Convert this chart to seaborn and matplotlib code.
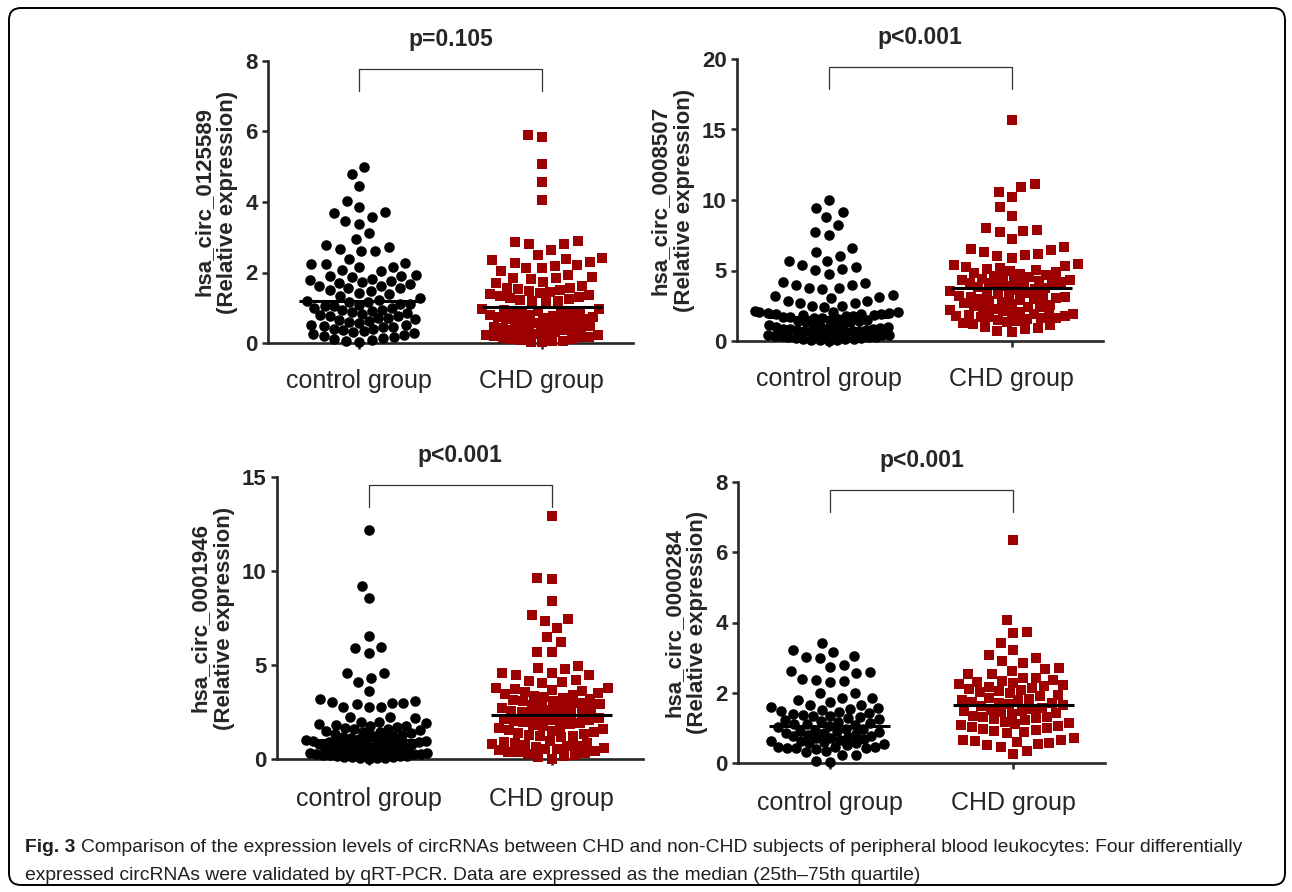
import matplotlib
matplotlib.use("Agg")
import matplotlib.pyplot as plt
import seaborn as sns
import numpy as np
from matplotlib.patches import FancyBboxPatch
from matplotlib.transforms import IdentityTransform

groups = ["control group", "CHD group"]
genes = ["hsa_circ_0125589", "hsa_circ_0008507", "hsa_circ_0001946", "hsa_circ_0000284"]
p_labels = ["p=0.105", "p<0.001", "p<0.001", "p<0.001"]
y_max = [8, 20, 15, 8]
y_step = [2, 5, 5, 2]

# medians (the black bars)
ctrl_median = [1.19, 1.73, 1.01, 1.05]
chd_median = [1.02, 3.76, 2.32, 1.65]

ctrl_0125589 = [
    5.00, 4.79, 4.46, 4.04, 3.85, 3.71, 3.68, 3.57, 3.47, 3.39, 3.11, 2.96,
    2.78, 2.72, 2.67, 2.62, 2.60, 2.39, 2.28, 2.23, 2.23, 2.17, 2.15, 2.07, 2.05,
    1.94, 1.91, 1.89, 1.86, 1.81, 1.79, 1.75, 1.74, 1.69, 1.66, 1.63, 1.62, 1.57, 1.55,
    1.51, 1.47, 1.43, 1.38, 1.33, 1.27, 1.22, 1.19, 1.17, 1.15, 1.12, 1.10, 1.08, 1.06, 1.05,
    1.00, 0.98, 0.95, 0.93, 0.91, 0.87, 0.85, 0.83, 0.80, 0.77, 0.76, 0.72, 0.70, 0.67,
    0.66, 0.62, 0.60, 0.58,
    0.52, 0.50, 0.49, 0.46, 0.44, 0.41, 0.39, 0.36, 0.34, 0.31, 0.28, 0.25, 0.23, 0.19,
    0.16, 0.14, 0.10, 0.08, 0.05, 0.03,
]
chd_0125589 = [
    5.90, 5.85, 5.08, 4.56, 4.06,
    2.90, 2.87, 2.81, 2.80, 2.64,
    2.50, 2.40, 2.38, 2.35, 2.30, 2.28, 2.20, 2.18, 2.14, 2.13, 2.05,
    1.93, 1.87, 1.85, 1.83, 1.81, 1.72, 1.69, 1.63, 1.56, 1.55, 1.54,
    1.50, 1.48, 1.45, 1.42, 1.39, 1.37, 1.34, 1.31, 1.29, 1.26, 1.23, 1.20, 1.18, 1.15,
    0.97, 0.96, 0.94, 0.92, 0.89, 0.88, 0.86, 0.84, 0.83, 0.80, 0.79, 0.77, 0.75, 0.73,
    0.71, 0.69, 0.67, 0.65, 0.64, 0.62, 0.60, 0.58, 0.57, 0.55,
    0.48, 0.47, 0.45, 0.43, 0.42, 0.40, 0.38, 0.36, 0.34, 0.32, 0.30, 0.28, 0.26, 0.24,
    0.22, 0.20, 0.18, 0.16, 0.14, 0.12, 0.10, 0.08, 0.06, 0.05, 0.03, 0.02,
]
ctrl_0008507 = [
    10.0, 9.46, 9.13, 8.77, 8.23, 7.75, 7.52, 6.57, 6.34, 6.05, 5.70, 5.68,
    5.39, 5.27, 5.08, 5.04, 4.73, 4.15, 4.13, 3.98, 3.96, 3.78, 3.74, 3.66,
    3.24, 3.19, 3.10, 3.03, 2.85, 2.83, 2.73, 2.71, 2.49, 2.47, 2.39,
    2.10, 2.08, 2.06, 2.03, 2.01, 1.98, 1.95, 1.93, 1.89, 1.86, 1.83, 1.80,
    1.76, 1.72, 1.69, 1.64, 1.61, 1.56, 1.52, 1.48, 1.45, 1.40, 1.36, 1.32,
    1.12, 1.10, 1.08, 1.05, 1.02, 1.00, 0.97, 0.94, 0.91, 0.88, 0.86, 0.82,
    0.79, 0.76, 0.73, 0.70, 0.68, 0.64, 0.61, 0.58, 0.55, 0.52, 0.49, 0.46,
    0.43, 0.40, 0.37, 0.34, 0.31, 0.28, 0.25, 0.22, 0.19, 0.16, 0.13, 0.11,
    0.09, 0.07, 0.05, 0.03,
]
chd_0008507 = [
    15.7, 11.1, 10.9, 10.6, 10.2, 9.5, 8.9, 8.0, 7.9, 7.8, 7.75, 7.2, 6.7,
    6.5, 6.45, 6.3, 6.2, 6.1, 6.0, 5.9, 5.45, 5.4,
    5.30, 5.22, 5.15, 5.08, 5.01, 4.94, 4.87, 4.81, 4.74, 4.68, 4.60, 4.53,
    4.47, 4.40, 4.33, 4.26, 4.18, 4.10,
    4.30, 4.22, 4.15, 4.08, 4.02, 3.95, 3.88, 3.80, 3.74, 3.68, 3.60, 3.52,
    3.46, 3.40, 3.33, 3.26, 3.20, 3.13, 3.06, 3.00,
    3.10, 3.03, 2.96, 2.90, 2.83, 2.76, 2.70, 2.64, 2.57, 2.50, 2.44, 2.38,
    2.31, 2.25, 2.18, 2.12, 2.06, 2.00,
    1.92, 1.88, 1.85, 1.82, 1.78, 1.75, 1.71, 1.68, 1.64, 1.60, 1.55, 1.50,
    1.44, 1.38, 1.30, 1.22, 1.12, 1.02, 0.92, 0.82, 0.72, 0.62,
]
ctrl_0001946 = [
    12.2, 9.2, 8.55, 6.54, 5.94, 5.89, 5.62, 4.56, 4.55, 4.33, 4.08, 3.62,
    3.19, 3.10, 3.01, 2.97, 2.96, 2.95, 2.79, 2.78, 2.77, 2.22, 2.21, 2.16, 1.96, 1.95,
    1.90, 1.86, 1.82, 1.78, 1.74, 1.70, 1.66, 1.62, 1.58, 1.54, 1.50, 1.46,
    1.42, 1.38, 1.34, 1.30, 1.26, 1.22, 1.18, 1.14, 1.10, 1.06, 1.03, 1.00,
    0.98, 0.96, 0.94, 0.92, 0.90, 0.88, 0.86, 0.84, 0.82, 0.80, 0.78, 0.76,
    0.74, 0.72, 0.70, 0.68, 0.66, 0.64, 0.62, 0.60, 0.58, 0.56, 0.53, 0.51, 0.48, 0.45,
    0.42, 0.40, 0.38, 0.36, 0.34, 0.32, 0.30, 0.28, 0.26, 0.24, 0.22, 0.20,
    0.18, 0.16, 0.14, 0.12, 0.10, 0.08, 0.06, 0.04, 0.03, 0.01,
]
chd_0001946 = [
    12.9, 9.65, 9.56, 8.42, 7.66, 7.43, 7.36, 6.99, 6.47, 6.24, 5.71, 5.70, 4.95,
    4.82, 4.79, 4.60, 4.58, 4.48, 4.46, 4.18, 4.16, 4.08, 4.02,
    3.80, 3.76, 3.71, 3.66, 3.61, 3.56, 3.51, 3.46, 3.41, 3.36, 3.31, 3.26,
    3.21, 3.16, 3.11, 3.06, 3.00, 2.95,
    2.90, 2.85, 2.80, 2.75, 2.70, 2.65, 2.60, 2.55, 2.50, 2.44, 2.38, 2.32,
    2.27, 2.22, 2.17, 2.12, 2.08, 2.05,
    2.00, 1.95, 1.90, 1.85, 1.80, 1.75, 1.70, 1.65, 1.60, 1.55, 1.50, 1.45,
    1.40, 1.35, 1.30, 1.25, 1.20, 1.15,
    0.95, 0.91, 0.87, 0.83, 0.79, 0.75, 0.71, 0.67, 0.63, 0.59, 0.55, 0.51,
    0.47, 0.43, 0.39, 0.35, 0.31, 0.27, 0.22, 0.16, 0.09, 0.02,
]
ctrl_0000284 = [
    3.41, 3.22, 3.16, 3.06, 3.02, 3.00, 2.78, 2.73, 2.62, 2.59, 2.56, 2.38,
    2.37, 2.34, 2.31, 1.99, 1.98, 1.86, 1.85, 1.79, 1.74, 1.66, 1.65, 1.60, 1.56, 1.55,
    1.50, 1.48, 1.45, 1.43, 1.40, 1.38, 1.35, 1.33, 1.30, 1.27, 1.25, 1.22,
    1.20, 1.17, 1.15, 1.12, 1.10, 1.07, 1.05, 1.02,
    0.98, 0.96, 0.94, 0.92, 0.90, 0.88, 0.86, 0.84, 0.82, 0.80, 0.78, 0.76,
    0.74, 0.72, 0.70, 0.68, 0.66, 0.64, 0.62, 0.60, 0.58, 0.56, 0.53, 0.50,
    0.46, 0.46, 0.45, 0.44, 0.43, 0.42, 0.41, 0.35, 0.30, 0.23, 0.22, 0.06, 0.04,
]
chd_0000284 = [
    6.35, 4.06, 3.74, 3.71, 3.41, 3.22, 3.08, 2.99, 2.89, 2.85, 2.70, 2.69,
    2.62, 2.54, 2.52, 2.43, 2.42,
    2.35, 2.33, 2.30, 2.28, 2.25, 2.22, 2.19, 2.16, 2.13, 2.10, 2.07, 2.04,
    2.01, 1.98, 1.95, 1.92,
    1.85, 1.83, 1.80, 1.78, 1.75, 1.72, 1.70, 1.67, 1.64, 1.61, 1.58, 1.55,
    1.52, 1.49, 1.47, 1.45, 1.42, 1.40,
    1.35, 1.32, 1.30, 1.27, 1.24, 1.21, 1.18, 1.15, 1.12, 1.09, 1.06, 1.03,
    1.00, 0.97, 0.94, 0.91, 0.88, 0.85,
    0.70, 0.66, 0.65, 0.62, 0.60, 0.57, 0.54, 0.50, 0.45, 0.35, 0.26,
]

ctrl_data = [ctrl_0125589, ctrl_0008507, ctrl_0001946, ctrl_0000284]
chd_data = [chd_0125589, chd_0008507, chd_0001946, chd_0000284]

RED = "#9c0000"
SHOW_SIZE = 7.6     # marker size (pt) that is finally drawn
AX_H = 282          # axes height in pixels


def layout_sizes(vals, ymax):
    # sparse dots get extra room, dense stretches get a smaller spacing so
    # the swarm stays as narrow as the published one (GraphPad lets the
    # dots overlap there)
    ypx = np.asarray(vals) * AX_H / ymax
    n = (np.abs(ypx[:, None] - ypx[None, :]) < 5).sum(axis=1)
    d_px = np.clip(np.sqrt(1000 / n), 4.5, 13.5)
    return (d_px * 0.72) ** 2


def swarm(ax, label, vals, ymax, **kws):
    before = len(ax.collections)
    sns.swarmplot(x=[label] * len(vals), y=vals, order=groups, size=SHOW_SIZE,
                  linewidth=0, warn_thresh=1.0, ax=ax, **kws)
    # seaborn also adds an empty collection for the other category
    for coll in ax.collections[before:]:
        if len(coll.get_offsets()) == len(vals):
            coll.set_sizes(layout_sizes(vals, ymax))


sns.set_style("ticks")
plt.rcParams["font.family"] = ["Liberation Sans", "DejaVu Sans"]

W, H = 1292, 892
fig = plt.figure(figsize=(W / 100, H / 100), dpi=100)

# axes boxes in pixels: left, top, right, bottom
boxes = [(268, 61, 633, 343), (737, 59, 1103, 341),
         (277, 477, 643, 759), (738, 482, 1105, 763)]

axes = []
for i, (x0, y0, x1, y1) in enumerate(boxes):
    ax = fig.add_axes([x0 / W, 1 - y1 / H, (x1 - x0) / W, (y1 - y0) / H])
    axes.append(ax)
    ym = y_max[i]

    swarm(ax, groups[0], ctrl_data[i], ym, color="black", marker="o")
    swarm(ax, groups[1], chd_data[i], ym, color=RED, marker="s")

    ax.hlines([ctrl_median[i], chd_median[i]], [-0.33, 0.67], [0.33, 1.33],
              color="black", lw=2.2, zorder=5)

    ax.set_ylim(0, ym)
    ax.set_xlim(-0.5, 1.5)
    ax.set_yticks(np.arange(0, ym + 1, y_step[i]))
    ax.set_xticks([0, 1])
    ax.set_xticklabels(groups, fontsize=18)
    for t in ax.get_yticklabels():
        t.set_fontweight("bold")
        t.set_fontsize(16)
    ax.tick_params(axis="y", length=4.5, width=1.8, pad=3)
    ax.tick_params(axis="x", length=4.5, width=1.8, pad=14 if i < 2 else 15.5)
    sns.despine(ax=ax)
    for s in ["left", "bottom"]:
        ax.spines[s].set_linewidth(1.9)
    ax.set_xlabel("")
    ax.set_ylabel(f"{genes[i]}\n(Relative expression)", fontsize=16,
                  fontweight="bold", linespacing=1.2, labelpad=5)
    ax.set_title(p_labels[i], fontsize=16.5, fontweight="bold", pad=11)

    # significance bracket
    ax.plot([0, 0, 1, 1], [0.893 * ym, 0.973 * ym, 0.973 * ym, 0.893 * ym],
            color="#333333", lw=0.9, clip_on=False)

# let seaborn lay out the swarms, then freeze them at the drawn marker size
fig.canvas.draw()
for ax in axes:
    for coll in ax.collections:
        if "draw" in coll.__dict__:
            del coll.draw
            coll.set_sizes([SHOW_SIZE ** 2])
            coll.set_clip_on(False)

# caption
renderer = fig.canvas.get_renderer()
cap_color = "#231f20"
cap_family = ["Liberation Sans Narrow", "Liberation Sans"]
fig_lbl = fig.text(25 / W, 1 - 852 / H, "Fig. 3", fontsize=12, fontweight="bold",
                   color=cap_color, va="baseline", family=cap_family)
line1 = fig.text(84 / W, 1 - 852 / H,
                 "Comparison of the expression levels of circRNAs between CHD and non-CHD "
                 "subjects of peripheral blood leukocytes: Four differentially",
                 fontsize=12, color=cap_color, va="baseline", family=cap_family)
line2 = fig.text(25 / W, 1 - 880 / H,
                 "expressed circRNAs were validated by qRT-PCR. Data are expressed as the "
                 "median (25th\u201375th quartile)",
                 fontsize=12, color=cap_color, va="baseline", family=cap_family)
w1 = line1.get_window_extent(renderer).width
scale = (1248 - 84) / w1
for t in (fig_lbl, line1, line2):
    t.set_fontsize(12 * scale)
wf = fig_lbl.get_window_extent(renderer).width
line1.set_x((25 + wf + 6) / W)

frame = FancyBboxPatch((9, 7), 1276, 877, boxstyle="round,pad=0,rounding_size=12",
                       transform=IdentityTransform(), fill=False, lw=1.4,
                       edgecolor="black")
fig.patches.append(frame)

fig.savefig("out.png", dpi=100)
